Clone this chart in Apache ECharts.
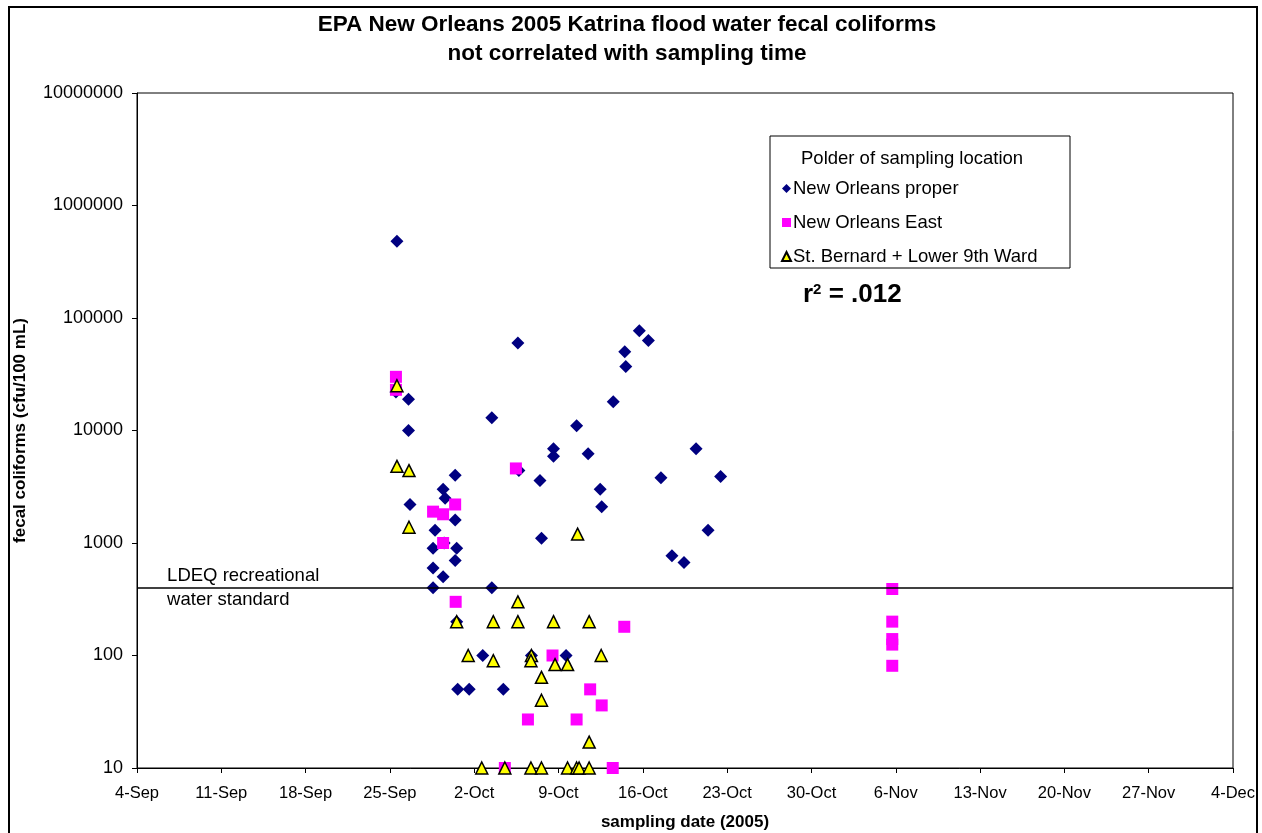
<!DOCTYPE html>
<html>
<head>
<meta charset="utf-8">
<script src="https://cdn.jsdelivr.net/npm/echarts@6/dist/echarts.min.js"></script>
<style>
html,body{margin:0;padding:0;background:#fff;}
#chart{width:1262px;height:833px;}
</style>
</head>
<body>
<div id="chart"></div>
<script>
// ---- data (sampling date 2005 'MM-DD HH', fecal coliforms cfu/100 mL) ----
const xTickLabels = ['4-Sep','11-Sep','18-Sep','25-Sep','2-Oct','9-Oct','16-Oct','23-Oct','30-Oct','6-Nov','13-Nov','20-Nov','27-Nov','4-Dec'];
const yTickValues = [10,100,1000,10000,100000,1000000,10000000];

const properDates = ['09-25 14','09-25 12','09-26 13','09-26 13','09-26 16','09-30 10','09-29 10','09-29 14','09-30 10','09-28 18',
  '09-28 14','09-30 13','09-30 10','09-28 14','09-29 10','09-28 14','10-03 11','10-03 11','10-05 15','10-05 17',
  '10-07 11','10-07 14','10-08 14','10-08 14','10-10 12','10-11 11','10-12 11','10-12 14','10-13 13','10-14 12',
  '10-14 14','10-15 17','10-16 11','10-17 12','10-18 10','10-19 10','10-20 10','10-21 10','10-22 11','09-30 13',
  '10-02 17','09-30 15','10-01 14','10-04 10','10-06 18','10-09 15','09-29 12'];
const properValues = [480000,22000,19000,10000,2200,4000,3000,2500,1600,1300,
  900,900,700,600,500,400,400,13000,60000,4400,
  3600,1100,6900,5900,11000,6200,3000,2100,18000,50000,
  37000,77000,63000,3800,770,670,6900,1300,3900,200,
  100,50,50,50,100,100,1000];

const eastDates = ['09-25 12','09-25 12','09-30 10','09-28 14','09-29 10','09-29 10','09-30 11','10-05 11','10-08 12','10-11 15',
  '10-12 14','10-06 11','10-10 12','10-14 11','10-04 13','10-13 12','11-05 17','11-05 17','11-05 17','11-05 17','11-05 17'];
const eastValues = [30000,23000,2200,1900,1800,1000,300,4600,100,50,
  36,27,27,180,10,10,390,200,140,125,81];

const bernardDates = ['09-25 14','09-25 14','09-26 14','09-26 14','09-30 13','10-01 12','10-03 14','10-03 14','10-05 15','10-05 15',
  '10-06 18','10-06 17','10-07 14','10-07 14','10-08 14','10-08 17','10-09 18','10-10 14','10-11 13','10-11 13',
  '10-12 13','10-02 15','10-04 13','10-06 17','10-07 14','10-09 18','10-10 12','10-10 17','10-11 13'];
const bernardValues = [25000,4800,4400,1380,200,100,200,90,300,200,
  100,90,64,40,200,83,83,1200,200,17,
  100,10,10,10,10,10,10,10,10];

const ldeqStandard = 400;
const seriesNames = ['New Orleans proper','New Orleans East','St. Bernard + Lower 9th Ward'];

// ---- helpers ----
const DAY0 = Date.UTC(2005, 8, 4);
function dayOffset(s) {
  const parts = s.split(' ');
  const md = parts[0].split('-').map(Number);
  const h = parts[1] ? Number(parts[1]) : 0;
  return (Date.UTC(2005, md[0] - 1, md[1], h) - DAY0) / 86400000;
}
function pairs(dates, vals) { return dates.map((d, i) => [dayOffset(d), vals[i]]); }

const FONT = '"Liberation Sans", Arial, sans-serif';
const chart = echarts.init(document.getElementById('chart'), null, {renderer: 'canvas'});

const option = {
  animation: false,
  backgroundColor: '#fff',
  textStyle: {fontFamily: FONT, color: '#000'},
  title: {
    text: 'EPA New Orleans 2005 Katrina flood water fecal coliforms\nnot correlated with sampling time',
    left: 627, textAlign: 'center', top: 10, padding: 0,
    textStyle: {fontFamily: FONT, fontSize: 22.5, fontWeight: 'bold', color: '#000', lineHeight: 29}
  },
  grid: {left: 137, right: 29, top: 93, bottom: 65, show: true, borderColor: '#000', borderWidth: 1,
    backgroundColor: 'transparent', containLabel: false, outerBoundsMode: 'none'},
  legend: {
    orient: 'vertical', left: 776, top: 174, itemGap: 15, itemWidth: 9, itemHeight: 9,
    data: seriesNames,
    textStyle: {fontFamily: FONT, fontSize: 18.5, color: '#000', padding: [0,0,0,-3]}
  },
  xAxis: {
    type: 'value', min: 0, max: 91, interval: 7,
    name: 'sampling date (2005)', nameLocation: 'middle', nameGap: 46,
    nameTextStyle: {fontFamily: FONT, fontSize: 17, fontWeight: 'bold', color: '#000'},
    axisLine: {lineStyle: {color: '#000', width: 1}},
    axisTick: {show: true, inside: false, length: 5, lineStyle: {color: '#000'}},
    axisLabel: {fontFamily: FONT, fontSize: 16.5, color: '#000', margin: 17,
      formatter: v => xTickLabels[Math.round(v / 7)] || ''},
    splitLine: {show: false}
  },
  yAxis: {
    type: 'log', logBase: 10, min: 10, max: 10000000,
    name: 'fecal coliforms (cfu/100 mL)', nameLocation: 'middle', nameGap: 108, nameRotate: 90,
    nameTextStyle: {fontFamily: FONT, fontSize: 17, fontWeight: 'bold', color: '#000'},
    axisLine: {show: true, lineStyle: {color: '#000', width: 1}},
    axisTick: {show: true, inside: false, length: 5, lineStyle: {color: '#000'}},
    axisLabel: {fontFamily: FONT, fontSize: 18, color: '#000', margin: 14,
      formatter: v => String(Math.round(v))},
    splitLine: {show: false},
    minorTick: {show: false}
  },
  series: [
    {
      name: seriesNames[0], type: 'scatter', symbol: 'diamond', symbolSize: 13, clip: false,
      itemStyle: {color: '#000080', opacity: 1},
      data: pairs(properDates, properValues),
      markLine: {
        silent: true, symbol: ['none','none'],
        lineStyle: {color: '#000', width: 1.5, type: 'solid'},
        label: {show: false},
        data: [{yAxis: ldeqStandard}]
      },
      z: 2
    },
    {
      name: seriesNames[1], type: 'scatter', symbol: 'rect', symbolSize: 12, clip: false,
      itemStyle: {color: '#FF00FF', opacity: 1},
      data: pairs(eastDates, eastValues), z: 3
    },
    {
      name: seriesNames[2], type: 'scatter', symbol: 'triangle', symbolSize: 12, clip: false,
      itemStyle: {color: '#FFFF00', borderColor: '#000', borderWidth: 1.5, opacity: 1},
      data: pairs(bernardDates, bernardValues), z: 4
    }
  ]
};
chart.setOption(option);

// annotations positioned through the axes
const lp = chart.convertToPixel({gridIndex: 0}, [2.5, ldeqStandard]);
chart.setOption({
  graphic: [
    {type: 'rect', shape: {x: 9, y: 7, width: 1248, height: 840}, style: {fill: 'none', stroke: '#000', lineWidth: 2}, silent: true, z: 0},
    {type: 'rect', shape: {x: 770, y: 136, width: 300, height: 132}, style: {fill: '#fff', stroke: '#000', lineWidth: 1}, z: 0, zlevel: 0},
    {type: 'text', left: 801, top: 149, style: {text: 'Polder of sampling location', font: '18.5px ' + FONT, fill: '#000'}, z: 10},
    {type: 'text', left: 803, top: 282, style: {
      text: '{b|r}{s|2}{b| = .012}',
      rich: {b: {font: 'bold 26px ' + FONT, fill: '#000'}, s: {font: 'bold 15px ' + FONT, fill: '#000', verticalAlign: 'top', padding: [0,0,10,0]}}
    }, z: 10},
    {type: 'text', x: lp[0], y: lp[1] - 24, style: {text: 'LDEQ recreational\nwater standard', font: '18.5px ' + FONT, fill: '#000', lineHeight: 24}, z: 10}
  ]
});
</script>
</body>
</html>
